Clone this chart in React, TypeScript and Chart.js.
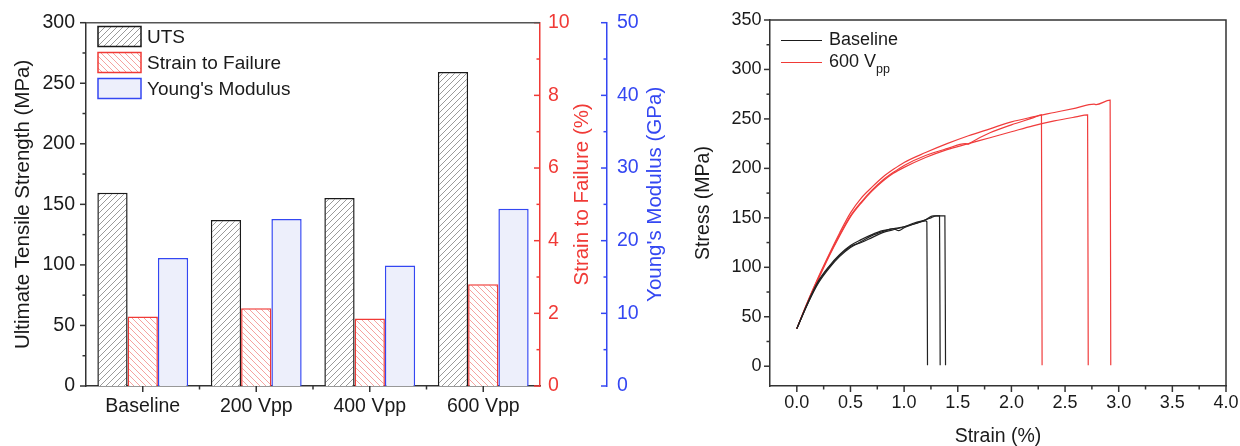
import React, { useEffect, useRef } from 'react';
import { Chart, registerables } from 'chart.js';
Chart.register(...registerables);

const FONT = '"Liberation Sans", Arial, Helvetica, sans-serif';

// ---------- Left panel data ----------
const categories = ['Baseline', '200 Vpp', '400 Vpp', '600 Vpp'];
const utsValues = [159.5, 137, 155.3, 259.2];
const strainToFailureValues = [1.91, 2.14, 1.86, 2.8];
const youngsModulusValues = [17.6, 23.0, 16.6, 24.4];

const utsTicks = [0, 50, 100, 150, 200, 250, 300];
const strainTicks = [0, 2, 4, 6, 8, 10];
const modulusTicks = [0, 10, 20, 30, 40, 50];

// ---------- Right panel data ----------
const strainAxisTicks = [0, 0.5, 1.0, 1.5, 2.0, 2.5, 3.0, 3.5, 4.0];
const stressAxisTicks = [0, 50, 100, 150, 200, 250, 300, 350];

const baseline1Strain = [0, 0.1, 0.2, 0.3, 0.4, 0.5, 0.6, 0.7, 0.8, 0.9, 1.0, 1.1, 1.2, 1.212, 1.218];
const baseline1Stress = [38, 64, 86, 101, 113, 122, 128, 133, 137, 139, 141, 144, 147, 146, 1];

const baseline2Strain = [0, 0.1, 0.2, 0.3, 0.4, 0.5, 0.6, 0.7, 0.8, 0.9, 0.95, 1.0, 1.1, 1.2, 1.27, 1.33, 1.336];
const baseline2Stress = [38, 63, 84, 99, 111, 120, 126, 132, 136, 139, 137, 140, 144, 148, 152, 152, 1];

const baseline3Strain = [0, 0.1, 0.2, 0.3, 0.4, 0.5, 0.6, 0.7, 0.8, 0.9, 1.0, 1.1, 1.2, 1.25, 1.3, 1.38, 1.386];
const baseline3Stress = [38, 63, 85, 100, 112, 121, 125, 130, 135, 138, 141, 145, 148, 150, 152, 152, 1];

const vpp1Strain = [0, 0.1, 0.2, 0.3, 0.4, 0.5, 0.6, 0.7, 0.8, 0.9, 1.0, 1.2, 1.4, 1.6, 1.8, 2.0, 2.2, 2.4, 2.6, 2.77, 2.79, 2.92, 2.926];
const vpp1Stress = [38, 65, 90, 113, 135, 155, 170, 181, 191, 199, 206, 216, 225, 233, 240, 247, 252, 256.5, 261, 265, 264.5, 269, 1];

const vpp2Strain = [0, 0.1, 0.2, 0.3, 0.4, 0.5, 0.6, 0.7, 0.8, 0.9, 1.0, 1.2, 1.4, 1.57, 1.6, 1.62, 1.8, 2.0, 2.2, 2.28, 2.286];
const vpp2Stress = [38, 65, 89, 112, 133, 152, 166, 178, 188, 196, 203, 213, 220, 225, 224.5, 226, 236, 244, 251, 254, 1];

const vpp3Strain = [0, 0.1, 0.2, 0.3, 0.4, 0.5, 0.6, 0.7, 0.8, 0.9, 1.0, 1.2, 1.4, 1.6, 1.8, 2.0, 2.2, 2.4, 2.6, 2.71, 2.716];
const vpp3Stress = [38, 64, 88, 111, 132, 151, 165, 177, 187, 195, 201, 211, 219, 225, 231, 237, 243, 248, 252, 254, 1];

const curveGroups = ['Baseline', '600 Vpp'];

const RED = '#f03a36';
const BLUE = '#3447f2';
const DARK = '#1a1a1a';
const AXIS = '#333333';

function makeHatch(ctx: CanvasRenderingContext2D, color: string, bg: string, dir: 'up' | 'down', size: number, lw: number) {
  const c = document.createElement('canvas');
  c.width = size;
  c.height = size;
  const g = c.getContext('2d')!;
  g.fillStyle = bg;
  g.fillRect(0, 0, size, size);
  g.strokeStyle = color;
  g.lineWidth = lw;
  g.beginPath();
  if (dir === 'up') {
    g.moveTo(-1, size + 1); g.lineTo(size + 1, -1);
    g.moveTo(-size - 1, size + 1); g.lineTo(1, -1);
    g.moveTo(size - 1, size + 1); g.lineTo(2 * size + 1, -1);
  } else {
    g.moveTo(-1, -1); g.lineTo(size + 1, size + 1);
    g.moveTo(-size - 1, -1); g.lineTo(1, size + 1);
    g.moveTo(size - 1, -1); g.lineTo(2 * size + 1, size + 1);
  }
  g.stroke();
  return ctx.createPattern(c, 'repeat')!;
}

type TickSpec = { id: string; majors: number[]; minors: number[]; dir: 'left' | 'down'; at: 'left' | 'right' | 'top'; color: string };

function drawTickMarks(chart: any, specs: TickSpec[]) {
  const ctx: CanvasRenderingContext2D = chart.ctx;
  ctx.save();
  ctx.lineWidth = 1.5;
  specs.forEach((s) => {
    const sc = chart.scales[s.id];
    ctx.strokeStyle = s.color;
    const draw = (v: number, len: number) => {
      const p = sc.getPixelForValue(v);
      ctx.beginPath();
      if (s.dir === 'down') {
        const y0 = sc.top;
        ctx.moveTo(p, y0);
        ctx.lineTo(p, y0 + len);
      } else {
        const x0 = s.at === 'left' ? sc.right : sc.left;
        ctx.moveTo(x0, p);
        ctx.lineTo(x0 - len, p);
      }
      ctx.stroke();
    };
    s.majors.forEach((v) => draw(v, 6));
    s.minors.forEach((v) => draw(v, 3.5));
  });
  ctx.restore();
}

function mids(arr: number[]) {
  const out: number[] = [];
  for (let i = 0; i < arr.length - 1; i++) out.push((arr[i] + arr[i + 1]) / 2);
  return out;
}

export default function App() {
  const leftRef = useRef<HTMLCanvasElement>(null);
  const rightRef = useRef<HTMLCanvasElement>(null);

  useEffect(() => {
    Chart.defaults.font.family = FONT;
    Chart.defaults.color = DARK;
    const lc = leftRef.current!;
    const rc = rightRef.current!;
    const lctx = lc.getContext('2d')!;

    const utsPattern = makeHatch(lctx, '#9a9a9a', '#ffffff', 'up', 6, 1);
    const strainPattern = makeHatch(lctx, '#f5a3a0', '#ffffff', 'down', 6, 1);

    const leftDecor = {
      id: 'leftDecor',
      afterDraw(chart: any) {
        const ctx: CanvasRenderingContext2D = chart.ctx;
        const ca = chart.chartArea;
        drawTickMarks(chart, [
          { id: 'y', majors: utsTicks, minors: mids(utsTicks), dir: 'left', at: 'left', color: AXIS },
          { id: 'y1', majors: strainTicks, minors: mids(strainTicks), dir: 'left', at: 'right', color: RED },
          { id: 'y2', majors: modulusTicks, minors: mids(modulusTicks), dir: 'left', at: 'right', color: BLUE },
          { id: 'x', majors: categories.map((_, i) => i), minors: mids(categories.map((_, i) => i)), dir: 'down', at: 'top', color: AXIS },
        ]);
        ctx.save();
        ctx.strokeStyle = '#555';
        ctx.lineWidth = 1.5;
        ctx.beginPath();
        ctx.moveTo(ca.left, ca.top);
        ctx.lineTo(ca.right, ca.top);
        ctx.stroke();
        const midY = (ca.top + ca.bottom) / 2 - 10;
        ctx.font = `20.5px ${FONT}`;
        ctx.textAlign = 'center';
        ctx.textBaseline = 'middle';
        const titles = [
          { id: 'y1', text: 'Strain to Failure (%)', color: RED, off: 42 },
          { id: 'y2', text: "Young's Modulus (GPa)", color: BLUE, off: 48 },
        ];
        titles.forEach((t) => {
          const sc = chart.scales[t.id];
          ctx.save();
          ctx.translate(sc.left + t.off, midY);
          ctx.rotate(-Math.PI / 2);
          ctx.fillStyle = t.color;
          ctx.fillText(t.text, 0, 0);
          ctx.restore();
        });
        chart.data.datasets.forEach((ds: any, i: number) => {
          const yc = 36.5 + i * 26;
          const x = ca.left + 12;
          ctx.fillStyle = ds.backgroundColor;
          ctx.fillRect(x, yc - 10, 43, 20);
          ctx.strokeStyle = ds.borderColor;
          ctx.lineWidth = 1.5;
          ctx.strokeRect(x, yc - 10, 43, 20);
          ctx.fillStyle = DARK;
          ctx.font = `19px ${FONT}`;
          ctx.textAlign = 'left';
          ctx.textBaseline = 'middle';
          ctx.fillText(ds.label, x + 49, yc + 1);
        });
        ctx.restore();
      },
    };

    const left = new Chart(lc, {
      type: 'bar',
      data: {
        labels: categories,
        datasets: [
          { label: 'UTS', data: utsValues, yAxisID: 'y', backgroundColor: utsPattern as any, borderColor: '#1a1a1a', borderWidth: 1.5 },
          { label: 'Strain to Failure', data: strainToFailureValues, yAxisID: 'y1', backgroundColor: strainPattern as any, borderColor: RED, borderWidth: 1.5 },
          { label: "Young's Modulus", data: youngsModulusValues, yAxisID: 'y2', backgroundColor: '#edeffb', borderColor: BLUE, borderWidth: 1.5 },
        ],
      },
      options: {
        responsive: false,
        animation: false,
        events: [],
        layout: { padding: { top: 20, left: 0, right: 0, bottom: 0 } },
        datasets: { bar: { categoryPercentage: 0.8, barPercentage: 1.0 } },
        plugins: { legend: { display: false }, tooltip: { enabled: false } },
        scales: {
          x: {
            type: 'category',
            grid: { display: false, drawTicks: false },
            border: { display: true, color: AXIS, width: 1.5 },
            ticks: { font: { size: 19.5 }, color: DARK, padding: 9, maxRotation: 0, autoSkip: false },
            afterFit: (s: any) => { s.height = 60; },
          },
          y: {
            type: 'linear',
            position: 'left',
            min: 0,
            max: 300,
            afterBuildTicks: (s: any) => { s.ticks = utsTicks.map((v) => ({ value: v })); },
            grid: { display: false, drawTicks: false },
            border: { display: true, color: AXIS, width: 1.5 },
            ticks: { font: { size: 19.5 }, color: DARK, padding: 11 },
            title: { display: true, text: 'Ultimate Tensile Strength (MPa)', font: { size: 20.5, lineHeight: 1 }, color: DARK, padding: { top: 13, bottom: 0 } },
            afterFit: (s: any) => { s.width = 86; },
          },
          y1: {
            type: 'linear',
            position: 'right',
            min: 0,
            max: 10,
            afterBuildTicks: (s: any) => { s.ticks = strainTicks.map((v) => ({ value: v })); },
            grid: { display: false, drawTicks: false },
            border: { display: true, color: RED, width: 1.5 },
            ticks: { font: { size: 19.5 }, color: RED, padding: 8 },
            afterFit: (s: any) => { s.width = 67; },
          },
          y2: {
            type: 'linear',
            position: 'right',
            min: 0,
            max: 50,
            afterBuildTicks: (s: any) => { s.ticks = modulusTicks.map((v) => ({ value: v })); },
            grid: { display: false, drawTicks: false },
            border: { display: true, color: BLUE, width: 1.5 },
            ticks: { font: { size: 19.5 }, color: BLUE, padding: 10 },
            afterFit: (s: any) => { s.width = 73; },
          },
        },
      } as any,
      plugins: [leftDecor],
    });

    const curve = (xs: number[], ys: number[], label: string, color: string) => ({
      label,
      data: xs.map((x, i) => ({ x, y: ys[i] })),
      borderColor: color,
      backgroundColor: color,
      borderWidth: 1.2,
      pointRadius: 0,
      fill: false,
      cubicInterpolationMode: 'monotone' as const,
    });

    const rightDecor = {
      id: 'rightDecor',
      afterDraw(chart: any) {
        const ctx: CanvasRenderingContext2D = chart.ctx;
        const ca = chart.chartArea;
        drawTickMarks(chart, [
          { id: 'y', majors: stressAxisTicks, minors: mids(stressAxisTicks), dir: 'left', at: 'left', color: AXIS },
          { id: 'x', majors: strainAxisTicks, minors: mids(strainAxisTicks), dir: 'down', at: 'top', color: AXIS },
        ]);
        ctx.save();
        ctx.strokeStyle = AXIS;
        ctx.lineWidth = 1.5;
        ctx.beginPath();
        ctx.moveTo(ca.left, ca.top);
        ctx.lineTo(ca.right, ca.top);
        ctx.lineTo(ca.right, ca.bottom);
        ctx.stroke();
        const colors = [DARK, RED];
        curveGroups.forEach((g, i) => {
          const yc = 40.5 + i * 22;
          const x = ca.left + 11;
          ctx.strokeStyle = colors[i];
          ctx.lineWidth = 1.2;
          ctx.beginPath();
          ctx.moveTo(x, yc);
          ctx.lineTo(x + 41, yc);
          ctx.stroke();
          ctx.fillStyle = DARK;
          ctx.textAlign = 'left';
          ctx.textBaseline = 'middle';
          ctx.font = `18px ${FONT}`;
          const m = g.match(/^(.*V)(pp)$/);
          if (m) {
            ctx.fillText(m[1], x + 48, yc);
            const w = ctx.measureText(m[1]).width;
            ctx.font = `12.5px ${FONT}`;
            ctx.fillText(m[2], x + 48 + w, yc + 7);
          } else {
            ctx.fillText(g, x + 48, yc);
          }
        });
        ctx.restore();
      },
    };

    const right = new Chart(rc, {
      type: 'line',
      data: {
        datasets: [
          curve(baseline1Strain, baseline1Stress, curveGroups[0], '#222222'),
          curve(baseline2Strain, baseline2Stress, curveGroups[0], '#222222'),
          curve(baseline3Strain, baseline3Stress, curveGroups[0], '#222222'),
          curve(vpp1Strain, vpp1Stress, curveGroups[1], '#f03c3c'),
          curve(vpp2Strain, vpp2Stress, curveGroups[1], '#f03c3c'),
          curve(vpp3Strain, vpp3Stress, curveGroups[1], '#f03c3c'),
        ],
      },
      options: {
        responsive: false,
        animation: false,
        events: [],
        layout: { padding: { top: 20, left: 0, right: 14, bottom: 0 } },
        plugins: { legend: { display: false }, tooltip: { enabled: false } },
        scales: {
          x: {
            type: 'linear',
            min: -0.25,
            max: 4,
            afterBuildTicks: (s: any) => { s.ticks = strainAxisTicks.map((v) => ({ value: v })); },
            grid: { display: false, drawTicks: false },
            border: { display: true, color: AXIS, width: 1.5 },
            ticks: { font: { size: 18 }, color: DARK, padding: 6, maxRotation: 0, autoSkip: false, callback: (v: any) => Number(v).toFixed(1) },
            title: { display: true, text: 'Strain (%)', font: { size: 19.5, lineHeight: 1 }, color: DARK, padding: { top: 0, bottom: 0 } },
            afterFit: (s: any) => { s.height = 60; s.paddingRight = 0; s.paddingLeft = 0; },
          },
          y: {
            type: 'linear',
            min: -20,
            max: 350,
            afterBuildTicks: (s: any) => { s.ticks = stressAxisTicks.map((v) => ({ value: v })); },
            grid: { display: false, drawTicks: false },
            border: { display: true, color: AXIS, width: 1.5 },
            ticks: { font: { size: 18 }, color: DARK, padding: 8.5 },
            title: { display: true, text: 'Stress (MPa)', font: { size: 19.5, lineHeight: 1 }, color: DARK, padding: { top: 13.5, bottom: 0 } },
            afterFit: (s: any) => { s.width = 90; s.paddingTop = 0; s.paddingBottom = 0; },
          },
        },
      } as any,
      plugins: [rightDecor],
    });

    return () => {
      left.destroy();
      right.destroy();
    };
  }, []);

  return (
    <div style={{ position: 'fixed', left: 0, top: 0, width: 1240, height: 446, background: '#ffffff' }}>
      <canvas ref={leftRef} width={680} height={446} style={{ position: 'absolute', left: 0, top: 0 }} />
      <canvas ref={rightRef} width={560} height={446} style={{ position: 'absolute', left: 680, top: 0 }} />
    </div>
  );
}
